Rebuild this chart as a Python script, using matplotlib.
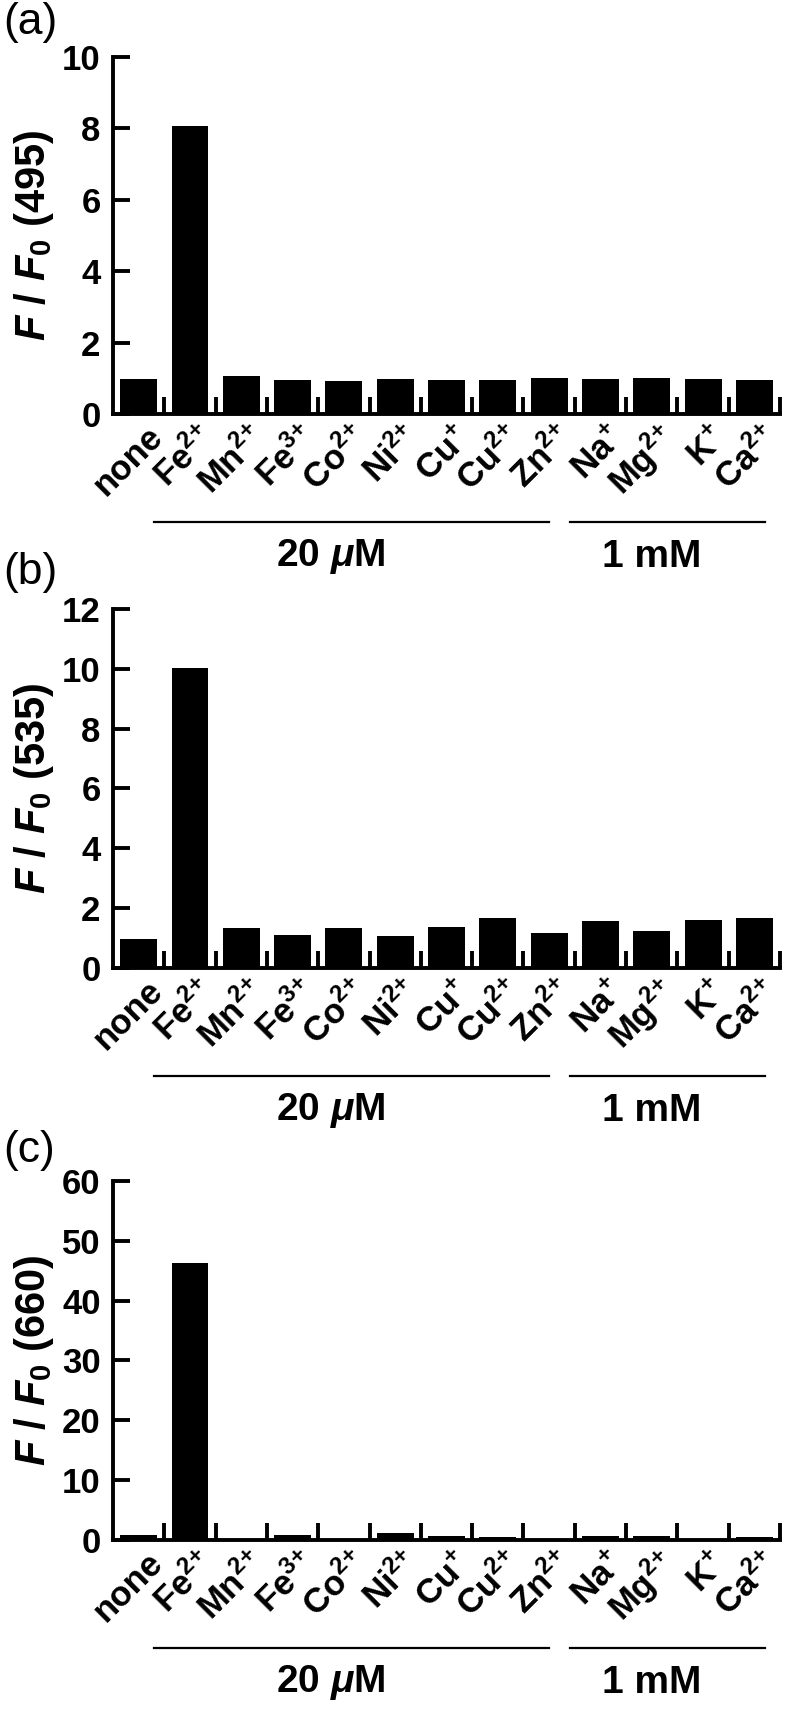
import numpy as np
import matplotlib
matplotlib.use("Agg")
import matplotlib.pyplot as plt
from matplotlib.transforms import ScaledTranslation

plt.rcParams['font.family'] = ['Liberation Sans', 'DejaVu Sans']
plt.rcParams['font.weight'] = 'bold'
plt.rcParams['axes.labelweight'] = 'bold'
plt.rcParams['mathtext.fontset'] = 'custom'
plt.rcParams['mathtext.rm'] = 'Liberation Sans:bold'
plt.rcParams['mathtext.bf'] = 'Liberation Sans:bold'
plt.rcParams['mathtext.it'] = 'Liberation Sans:italic:bold'
plt.rcParams['mathtext.default'] = 'bf'

# data
ions = ['none', 'Fe$^{2{+}}$', 'Mn$^{2{+}}$', 'Fe$^{3{+}}$', 'Co$^{2{+}}$', 'Ni$^{2{+}}$',
        'Cu$^{{+}}$', 'Cu$^{2{+}}$', 'Zn$^{2{+}}$', 'Na$^{{+}}$', 'Mg$^{2{+}}$', 'K$^{{+}}$',
        'Ca$^{2{+}}$']
ratio_495 = [0.97, 8.06, 1.06, 0.95, 0.92, 0.97, 0.95, 0.95, 1.01, 0.97, 1.01, 0.97, 0.95]
ratio_535 = [0.96, 10.03, 1.33, 1.10, 1.33, 1.07, 1.37, 1.66, 1.18, 1.58, 1.23, 1.62, 1.66]
ratio_660 = [0.9, 46.3, 0.2, 0.9, 0.2, 1.1, 0.65, 0.45, 0.15, 0.7, 0.7, 0.15, 0.45]

wavelengths = ['495', '535', '660']
ymaxes = [10, 12, 60]
ysteps = [2, 2, 10]
panel_tags = ['(a)', '(b)', '(c)']
groups = [r'20 $\mathit{\mu}$M', '1 mM']

fig = plt.figure(figsize=(7.87, 17.09), dpi=100)

# axes boxes (left, bottom, width, height) in figure fraction
boxes = [(0.1436, 0.7578, 0.8475, 0.2089),
         (0.1436, 0.4336, 0.8475, 0.2101),
         (0.1436, 0.0989, 0.8475, 0.2101)]
tag_y = [0.999, 0.677, 0.339]

x = np.arange(len(ions))
lw = 2.8

for i, vals in enumerate([ratio_495, ratio_535, ratio_660]):
    ax = fig.add_axes(boxes[i])
    ax.bar(x, vals, width=0.72, color='black')
    ax.set_xlim(-0.5, len(ions) - 0.5)
    ax.set_ylim(0, ymaxes[i])
    ax.set_yticks(np.arange(0, ymaxes[i] + 1, ysteps[i]))
    ax.spines['top'].set_visible(False)
    ax.spines['right'].set_visible(False)
    ax.spines['left'].set_linewidth(lw)
    ax.spines['bottom'].set_linewidth(lw)
    ax.spines['left'].set_capstyle('projecting')
    ax.tick_params(axis='y', direction='in', length=12, width=lw, pad=9, labelsize=25)
    ax.set_xticks(x)
    ax.set_xticks(np.arange(0.5, len(ions), 1), minor=True)
    ax.tick_params(axis='x', which='major', length=0, pad=0)
    ax.tick_params(axis='x', which='minor', direction='in', length=12, width=lw)
    ax.set_xticklabels(ions, rotation=45, ha='right', va='center',
                       rotation_mode='anchor', fontsize=25)
    shift = ScaledTranslation(19 / 100, -18 / 100, fig.dpi_scale_trans)
    for lab in ax.get_xticklabels():
        lab.set_transform(lab.get_transform() + shift)

    ax.set_ylabel(r'$\mathit{F}$ / $\mathit{F}_{\mathit{0}}$ (' + wavelengths[i] + ')',
                  fontsize=30, fontweight='bold')
    ax.yaxis.set_label_coords(-0.085, 0.5)

    # concentration group brackets under the labels
    line_tr = ax.get_xaxis_transform() + ScaledTranslation(0, -108 / 100, fig.dpi_scale_trans)
    text_tr = ax.get_xaxis_transform() + ScaledTranslation(0, -143 / 100, fig.dpi_scale_trans)
    ax.plot([0.3, 8.0], [0, 0], color='black', lw=1.6, transform=line_tr, clip_on=False)
    ax.plot([8.41, 12.21], [0, 0], color='black', lw=1.6, transform=line_tr, clip_on=False)
    ax.text(3.75, 0, groups[0], transform=text_tr, ha='center', va='center', fontsize=28)
    ax.text(10.0, 0, groups[1], transform=text_tr, ha='center', va='center', fontsize=28)

    fig.text(0.004, tag_y[i], panel_tags[i], fontsize=32, fontweight='normal',
             ha='left', va='top')

fig.savefig('out.png', dpi=100)
